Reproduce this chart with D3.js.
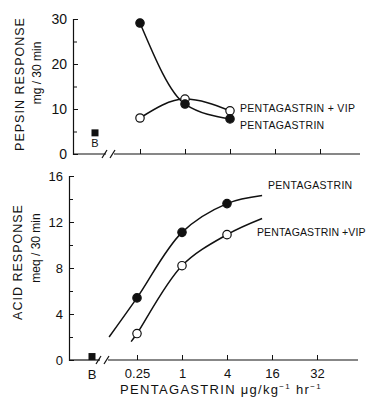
<!DOCTYPE html>
<html>
<head>
<meta charset="utf-8">
<script src="https://cdn.jsdelivr.net/npm/d3@7"></script>
<style>
  body { margin: 0; background: #fff; }
  svg text { font-family: "Liberation Sans", Arial, sans-serif; fill: #111; }
</style>
</head>
<body>
<div id="chart"></div>
<script>
// x positions are dose categories, drawn evenly spaced (index -1 = basal "B")
const doseIndex = [0, 1, 2, 3, 4]
const doseLabels = ["0.25", "1", "4", "16", "32"]

// pepsin response, mg / 30 min
const pepsinPenta = [29.1, 11.1, 7.8]
const pepsinPentaVip = [8.0, 12.2, 9.6]
const pepsinBasal = 4.7

// acid response, meq / 30 min
const acidPenta = [5.4, 11.1, 13.6]
const acidPentaVip = [2.3, 8.2, 10.9]
const acidBasal = 0.3
// fitted curve extends beyond the measured doses
const acidPentaFit = [[-0.62, 2.0], [0, 5.4], [1, 11.1], [2, 13.6], [2.78, 14.3]]
const acidPentaVipFit = [[-0.13, 1.6], [0, 2.3], [1, 8.2], [2, 10.9], [2.78, 12.3]]

const width = 368
const height = 404
const ink = "#111"

const svg = d3.select("#chart").append("svg")
    .attr("width", width).attr("height", height)

const xTop = d3.scaleLinear().domain([-1, 4]).range([95, 320])
const xBot = d3.scaleLinear().domain([-1, 4]).range([92, 317])
const yTop = d3.scaleLinear().domain([0, 30]).range([154, 19])
const yBot = d3.scaleLinear().domain([0, 16]).range([360, 176])

const line = (x, y, curve) => d3.line()
    .x(d => x(d[0])).y(d => y(d[1]))
    .curve(curve)

// draws the x baseline with a "//" break between B and the doses
const brokenAxis = (y0, xStart, breakA, breakB, xEnd) => {
    const g = svg.append("g").attr("stroke", ink).attr("stroke-width", 1.2)
    g.append("line").attr("x1", xStart).attr("x2", breakA).attr("y1", y0).attr("y2", y0)
    g.append("line").attr("x1", breakB).attr("x2", xEnd).attr("y1", y0).attr("y2", y0)
    ;[breakA - 2, breakB - 2].forEach(bx => {
        g.append("line").attr("x1", bx - 2).attr("x2", bx + 3)
            .attr("y1", y0 + 4).attr("y2", y0 - 4)
    })
}

const yAxis = (scale, x0, major, minor, fs) => {
    const g = svg.append("g").attr("transform", `translate(${x0},0)`)
    g.call(d3.axisLeft(scale).tickValues(major).tickSize(-5).tickPadding(6).tickFormat(d3.format("d")))
    g.append("g").call(d3.axisLeft(scale).tickValues(minor).tickSize(-4).tickFormat(""))
        .select(".domain").remove()
    g.selectAll("path.domain").attr("stroke", ink).attr("stroke-width", 1.2)
    g.selectAll("line").attr("stroke", ink)
    g.selectAll("text").attr("font-size", fs).style("fill", ink)
    return g
}

const xAxis = (scale, y0, labels) => {
    const g = svg.append("g").attr("transform", `translate(0,${y0})`)
    g.call(d3.axisBottom(scale).tickValues(doseIndex).tickSize(-5).tickPadding(9)
        .tickFormat((d, i) => labels ? doseLabels[i] : ""))
    g.select(".domain").remove()
    g.selectAll("line").attr("stroke", ink)
    g.selectAll("text").attr("font-size", 13).style("fill", ink)
    return g
}

const seriesMarks = (x, y, vals, filled) => {
    svg.append("g").selectAll("circle")
        .data(vals.map((v, i) => [doseIndex[i], v]))
        .enter().append("circle")
        .attr("cx", d => x(d[0])).attr("cy", d => y(d[1]))
        .attr("r", 4.2)
        .attr("fill", filled ? ink : "#fff")
        .attr("stroke", ink).attr("stroke-width", 1.2)
}

const basal = (x, y, v) => {
    svg.append("rect")
        .attr("x", x(-1) - 3.5).attr("y", y(v) - 3.5)
        .attr("width", 7).attr("height", 7).attr("fill", ink)
}

// ---------- top panel: pepsin ----------
yAxis(yTop, 73, [0, 10, 20, 30], [5, 15, 25], 14)
brokenAxis(yTop(0), 73, 106, 114, 360)
xAxis(xTop, yTop(0), false)

svg.append("path")
    .attr("d", line(xTop, yTop, d3.curveMonotoneX)(pepsinPenta.map((v, i) => [doseIndex[i], v])))
    .attr("fill", "none").attr("stroke", ink).attr("stroke-width", 1.5)
svg.append("path")
    .attr("d", line(xTop, yTop, d3.curveMonotoneX)(pepsinPentaVip.map((v, i) => [doseIndex[i], v])))
    .attr("fill", "none").attr("stroke", ink).attr("stroke-width", 1.5)
seriesMarks(xTop, yTop, pepsinPentaVip, false)
seriesMarks(xTop, yTop, pepsinPenta, true)
basal(xTop, yTop, pepsinBasal)
svg.append("text").attr("x", xTop(-1)).attr("y", 147)
    .attr("text-anchor", "middle").attr("font-size", 11).text("B")

svg.append("text").attr("x", 240).attr("y", 112).attr("font-size", 10.5).attr("letter-spacing", 0.3)
    .text("PENTAGASTRIN + VIP")
svg.append("text").attr("x", 240).attr("y", 129).attr("font-size", 10.5).attr("letter-spacing", 0.3)
    .text("PENTAGASTRIN")

svg.append("text").attr("transform", "translate(24,84) rotate(-90)")
    .attr("text-anchor", "middle").attr("font-size", 12.5).attr("letter-spacing", 1)
    .text("PEPSIN RESPONSE")
svg.append("text").attr("transform", "translate(41,73) rotate(-90)")
    .attr("text-anchor", "middle").attr("font-size", 12).text("mg / 30 min")

// ---------- bottom panel: acid ----------
yAxis(yBot, 69, [0, 4, 8, 12, 16], [2, 6, 10, 14], 13)
brokenAxis(yBot(0), 69, 100, 108, 358)
const xb = xAxis(xBot, yBot(0), true)
xb.append("text").attr("x", xBot(-1)).attr("y", 19)
    .attr("text-anchor", "middle").attr("font-size", 13).style("fill", ink).text("B")

const curve = d3.curveCatmullRom.alpha(0.5)
svg.append("path").attr("d", line(xBot, yBot, curve)(acidPentaFit))
    .attr("fill", "none").attr("stroke", ink).attr("stroke-width", 1.5)
svg.append("path").attr("d", line(xBot, yBot, curve)(acidPentaVipFit))
    .attr("fill", "none").attr("stroke", ink).attr("stroke-width", 1.5)
seriesMarks(xBot, yBot, acidPentaVip, false)
seriesMarks(xBot, yBot, acidPenta, true)
basal(xBot, yBot, acidBasal)

svg.append("text").attr("x", 268).attr("y", 189).attr("font-size", 10.5).attr("letter-spacing", 0.3)
    .text("PENTAGASTRIN")
svg.append("text").attr("x", 257).attr("y", 236).attr("font-size", 10.5).attr("letter-spacing", 0.1)
    .text("PENTAGASTRIN +VIP")

svg.append("text").attr("transform", "translate(22,262) rotate(-90)")
    .attr("text-anchor", "middle").attr("font-size", 12.5).attr("letter-spacing", 1)
    .text("ACID RESPONSE")
svg.append("text").attr("transform", "translate(40,248) rotate(-90)")
    .attr("text-anchor", "middle").attr("font-size", 12).text("meq / 30 min")

const xt = svg.append("text").attr("x", 221).attr("y", 394)
    .attr("text-anchor", "middle").attr("font-size", 13).attr("letter-spacing", 1.3)
xt.append("tspan").text("PENTAGASTRIN  μg/kg")
xt.append("tspan").attr("font-size", 8).attr("dy", -5).text("−1")
xt.append("tspan").attr("dy", 5).text(" hr")
xt.append("tspan").attr("font-size", 8).attr("dy", -5).text("−1")
</script>
</body>
</html>
